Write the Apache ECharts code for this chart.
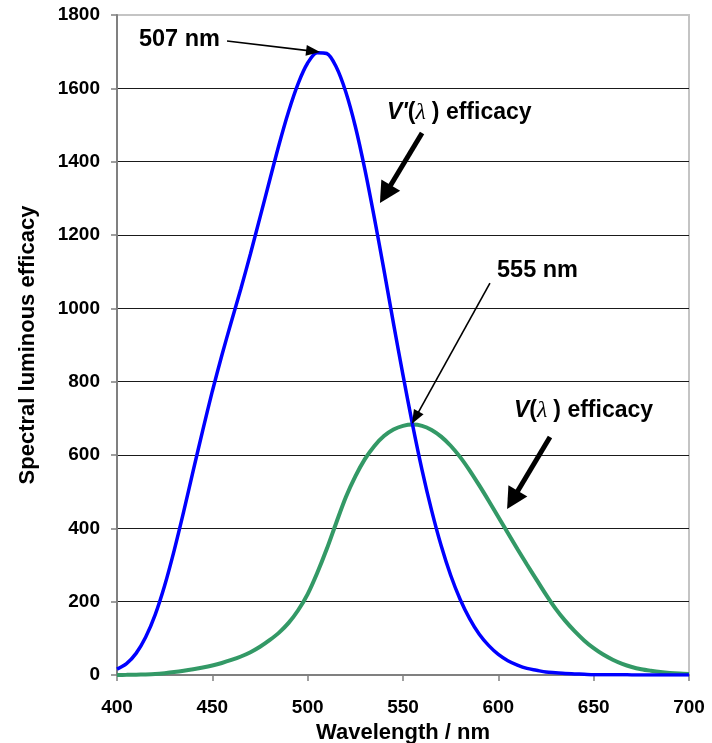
<!DOCTYPE html>
<html><head><meta charset="utf-8">
<script src="https://cdn.jsdelivr.net/npm/echarts@6/dist/echarts.min.js"></script>
<style>html,body{margin:0;padding:0;background:#fff}#c{width:712px;height:743px}</style>
</head><body><div id="c"></div>
<script>
// Wavelength (nm)
const wavelengths = [400,405,410,415,420,425,430,435,440,445,450,455,460,465,470,475,480,485,490,495,
  500,505,510,515,520,525,530,535,540,545,550,555,560,565,570,575,580,585,590,595,
  600,605,610,615,620,625,630,635,640,645,650,655,660,665,670,675,680,685,690,695,700];
// V'(λ) efficacy (scotopic), blue curve
const scotopicEfficacy = [16,31,59,103,164,244,340,446,558,668,774,872,964,1054,1149,1248,1348,1447,1537,1613,
  1669,1697,1695,1658,1590,1496,1379,1246,1105,959,818,683,559,449,353,272,206,153,111,80,
  56,39,27,18,13,8,6,4,3,2,1,1,0.5,0.4,0.3,0.2,0.1,0.1,0.1,0,0];
// V(λ) efficacy (photopic), green curve
const photopicEfficacy = [0.3,0.4,0.8,1.5,2.7,5,7.9,11.5,15.7,20.4,26,32.8,41,50.5,62.1,76.9,94.9,115.6,142.1,176.6,
  220.6,278.2,343.5,415.4,484.9,541.8,588.7,624.8,651.6,669.5,679.5,683,679.6,668.4,650.2,625.2,594.2,557.5,517,474.6,
  431,387.1,343.5,301.3,260.2,219.2,181,148.2,119.5,94.4,73.1,55.7,41.7,30.4,21.9,15.8,11.6,8.1,5.6,3.9,2.8];

const xAxisRange = [400, 700, 50];
const yAxisRange = [0, 1800, 200];
const xAxisTitle = 'Wavelength / nm';
const yAxisTitle = 'Spectral luminous efficacy';

// Annotation labels (left-middle anchor in data space)
const labelKeys = ['peak507', 'vprime', 'peak555', 'v'];
const labelAnchors = [[411.5, 1732], [541.6, 1533], [599.3, 1102], [608.2, 720]];
// Arrows in data space
const arrowFrom = [[457.7, 1729], [560.0, 1478], [595.6, 1069], [627.1, 649]];
const arrowTo = [[506.5, 1699], [537.9, 1287], [554.7, 685], [604.6, 453]];
const arrowThick = [false, true, false, true];

const chart = echarts.init(document.getElementById('c'));
const sans = 'Liberation Sans, Arial, sans-serif';
chart.setOption({
  animation: false,
  backgroundColor: '#fff',
  grid: { left: 117, right: 23, top: 15, bottom: 68, show: true, borderColor: '#c4c4c4', borderWidth: 2, outerBoundsMode: 'none' },
  xAxis: {
    type: 'value', min: xAxisRange[0], max: xAxisRange[1], interval: xAxisRange[2],
    name: xAxisTitle, nameLocation: 'middle', nameGap: 44,
    nameTextStyle: { fontFamily: sans, fontWeight: 'bold', fontSize: 22, color: '#000' },
    axisLine: { lineStyle: { color: '#808080', width: 2 } },
    axisTick: { show: true, length: 6, lineStyle: { color: '#808080', width: 1.5 } },
    axisLabel: { margin: 23, fontFamily: sans, fontWeight: 'bold', fontSize: 19, color: '#000', formatter: v => String(v) },
    splitLine: { show: false }
  },
  yAxis: {
    type: 'value', min: yAxisRange[0], max: yAxisRange[1], interval: yAxisRange[2],
    name: yAxisTitle, nameLocation: 'middle', nameGap: 78, nameRotate: 90,
    nameTextStyle: { fontFamily: sans, fontWeight: 'bold', fontSize: 22, color: '#000' },
    axisLine: { show: true, lineStyle: { color: '#808080', width: 2 } },
    axisTick: { show: true, length: 6, lineStyle: { color: '#808080', width: 1.5 } },
    axisLabel: { margin: 17, fontFamily: sans, fontWeight: 'bold', fontSize: 19, color: '#000', formatter: v => String(v) },
    splitLine: { show: true, showMinLine: false, showMaxLine: false, lineStyle: { color: '#1a1a1a', width: 1 } }
  },
  series: [
    { type: 'line', data: wavelengths.map((w, i) => [w, photopicEfficacy[i]]), showSymbol: false, smooth: 0.3,
      lineStyle: { color: '#339966', width: 4 }, z: 3 },
    { type: 'line', data: wavelengths.map((w, i) => [w, scotopicEfficacy[i]]), showSymbol: false, smooth: 0.3,
      lineStyle: { color: '#0000ff', width: 3.5 }, z: 4 }
  ]
});

const labelStyles = {
  peak507: { text: '507 nm' },
  peak555: { text: '555 nm' },
  vprime: { text: "{vi|V'}{n|(}{l|λ }{n|) efficacy}" },
  v: { text: "{vi|V}{n|(}{l|λ }{n|) efficacy}" }
};
const rich = {
  vi: { fontFamily: sans, fontWeight: 'bold', fontStyle: 'italic', fontSize: 23, fill: '#000' },
  n: { fontFamily: sans, fontWeight: 'bold', fontSize: 23, fill: '#000' },
  l: { fontFamily: 'Liberation Serif, serif', fontStyle: 'italic', fontSize: 24, fill: '#000' }
};
const toPx = p => chart.convertToPixel({ gridIndex: 0 }, p);
const graphics = [];
labelKeys.forEach((k, i) => {
  const p = toPx(labelAnchors[i]);
  const st = labelStyles[k];
  const style = { text: st.text, x: p[0], y: p[1], verticalAlign: 'middle', align: 'left',
    fontFamily: sans, fontWeight: 'bold', fontSize: 23.5, fill: '#000' };
  if (st.text.indexOf('{') >= 0) style.rich = rich;
  graphics.push({ type: 'text', style, z: 10 });
});
arrowFrom.forEach((f, i) => {
  const a = toPx(f), t = toPx(arrowTo[i]);
  const thick = arrowThick[i];
  const L = thick ? 21 : 14, W = thick ? 22 : 11, lw = thick ? 5 : 1.6;
  const dx = t[0] - a[0], dy = t[1] - a[1], len = Math.hypot(dx, dy);
  const ux = dx / len, uy = dy / len, px = -uy, py = ux;
  const bx = t[0] - ux * L, by = t[1] - uy * L;
  graphics.push({ type: 'line', shape: { x1: a[0], y1: a[1], x2: bx + ux * 2, y2: by + uy * 2 },
    style: { stroke: '#000', lineWidth: lw }, z: 10 });
  graphics.push({ type: 'polygon', shape: { points: [[t[0], t[1]], [bx + px * W / 2, by + py * W / 2], [bx - px * W / 2, by - py * W / 2]] },
    style: { fill: '#000' }, z: 10 });
});
chart.setOption({ graphic: graphics });
</script>
</body></html>
